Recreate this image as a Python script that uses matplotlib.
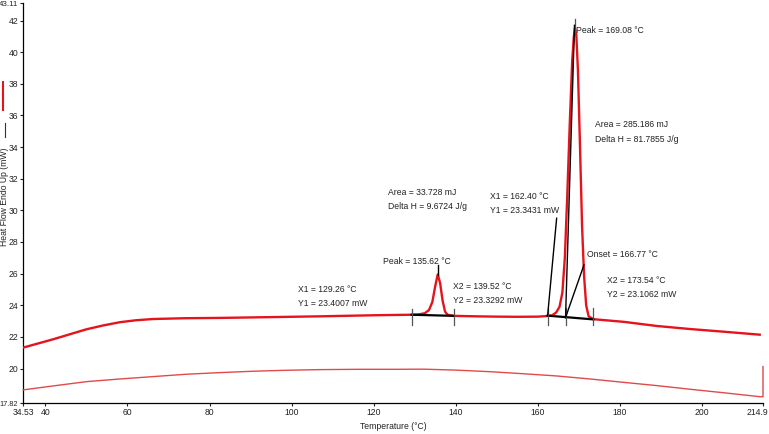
import matplotlib
matplotlib.use("Agg")
import matplotlib.pyplot as plt
import matplotlib.transforms as mtransforms
from matplotlib.lines import Line2D
from matplotlib import font_manager

# the instrument software uses a tall narrow font; take a narrow one if present
installed = {f.name for f in font_manager.fontManager.ttflist}
if 'Liberation Sans Narrow' in installed:
    plt.rcParams['font.family'] = ['Liberation Sans Narrow', 'DejaVu Sans']
    fs = 7.4
else:
    plt.rcParams['font.family'] = ['Liberation Sans', 'DejaVu Sans']
    fs = 6.2

# DSC scan (temperature in degC, heat flow in mW)
main_temp = [34.53, 41.9, 46, 50, 54, 58.2, 62, 66.2, 74, 82.5, 95, 106.9, 120.7, 126,
             129.26, 131, 132.5, 133.5, 134.3, 135.0, 135.62, 136.2, 136.8, 137.4, 138,
             139.52, 145, 150, 155, 160, 162.4, 163.5, 164.5, 165.3, 166.0, 166.6,
             167.2, 167.8, 168.4, 168.8, 169.08, 169.4, 169.8, 170.3, 170.8, 171.3,
             171.8, 172.4, 173.54, 181, 189, 197, 205.2, 214.1]
main_heat = [21.32, 21.85, 22.17, 22.48, 22.72, 22.93, 23.05, 23.13, 23.18, 23.2, 23.25, 23.3, 23.37, 23.39,
             23.40, 23.42, 23.5, 23.7, 24.2, 25.2, 25.95, 25.4, 24.3, 23.6, 23.4,
             23.33, 23.3, 23.28, 23.27, 23.28, 23.32, 23.36, 23.55, 23.9, 24.8, 27.0,
             31.0, 35.5, 39.5, 41.0, 41.5, 41.1, 38.8, 34.0, 29.0, 25.8,
             24.0, 23.3, 23.12, 22.95, 22.69, 22.5, 22.33, 22.14]

lower_temp = [34.6, 41.9, 50.0, 58.2, 66.3, 74.4, 82.5, 90.7, 98.8, 106.9, 116, 125.6,
              132.1, 140, 148.3, 156.5, 164.6, 172.7, 180.8, 189, 197.1, 205.6, 214.1,
              214.9, 214.9]
lower_heat = [18.65, 18.9, 19.17, 19.34, 19.49, 19.64, 19.74, 19.83, 19.89, 19.93, 19.95, 19.95,
              19.96, 19.9, 19.8, 19.67, 19.53, 19.34, 19.13, 18.92, 18.69, 18.46, 18.22,
              18.22, 20.12]

# analysis results printed by the instrument
peak1 = dict(x1=129.26, y1=23.4007, x2=139.52, y2=23.3292, peak=135.62, area=33.728, dh=9.6724)
peak2 = dict(x1=162.40, y1=23.3431, x2=173.54, y2=23.1062, peak=169.08, area=285.186, dh=81.7855,
             onset=166.77)

x_ticks = [34.53, 40, 60, 80, 100, 120, 140, 160, 180, 200, 214.9]
x_tick_labels = ["34.53", "40", "60", "80", "100", "120", "140", "160", "180", "200", "214.9"]
y_ticks = [17.82, 20, 22, 24, 26, 28, 30, 32, 34, 36, 38, 40, 42, 43.11]
y_tick_labels = ["17.82", "20", "22", "24", "26", "28", "30", "32", "34", "36", "38", "40", "42", "43.11"]

fig = plt.figure(figsize=(7.69, 4.34), dpi=100)
ax = fig.add_axes([23 / 769, 31 / 434, 740 / 769, 400 / 434])

red = '#e5141c'
ax.plot(main_temp, main_heat, color=red, lw=1.7, zorder=3)
ax.plot(lower_temp, lower_heat, color='#e04a4a', lw=1.0, clip_on=False, zorder=3)

k = dict(color='black', lw=1.0, zorder=4)
tk = dict(color='#555555', lw=0.9, zorder=4)
ax.plot([peak1['x1'], peak1['x2']], [peak1['y1'], peak1['y2']], color='black', lw=1.6, zorder=4)
for xv in (peak1['x1'], peak1['x2']):
    ax.plot([xv, xv], [22.75, 23.75], **tk)
ax.plot([peak1['peak'], peak1['peak']], [25.9, 26.55], **k)

ax.plot([peak2['x1'], peak2['x2']], [peak2['y1'], peak2['y2']], color='black', lw=1.6, zorder=4)
for xv in (peak2['x1'], peak2['onset'], peak2['x2']):
    ax.plot([xv, xv], [22.75, 23.8], **tk)
ax.plot([peak2['peak'], peak2['peak']], [41.3, 42.1], **tk)
ax.plot([peak2['x1'], 164.6], [peak2['y1'], 29.5], **k)
ax.plot([peak2['onset'], 168.95], [23.22, 41.7], **k)
ax.plot([peak2['onset'], 171.26], [23.22, 26.55], **k)

def label(x, y, s):
    ax.text(x, y, s, fontsize=fs, ha='left', va='center', zorder=5, color='#222222')

label(169.4, 41.4, "Peak = %.2f \u00b0C" % peak2['peak'])
label(173.9, 35.4, "Area = %.3f mJ" % peak2['area'])
label(173.9, 34.5, "Delta H = %.4f J/g" % peak2['dh'])
label(148.35, 30.85, "X1 = %.2f \u00b0C" % peak2['x1'])
label(148.35, 29.96, "Y1 = %.4f mW" % peak2['y1'])
label(172.0, 27.18, "Onset = %.2f \u00b0C" % peak2['onset'])
label(176.9, 25.54, "X2 = %.2f \u00b0C" % peak2['x2'])
label(176.9, 24.65, "Y2 = %.4f mW" % peak2['y2'])

label(122.27, 26.74, "Peak = %.2f \u00b0C" % peak1['peak'])
label(123.5, 31.10, "Area = %.3f mJ" % peak1['area'])
label(123.5, 30.22, "Delta H = %.4f J/g" % peak1['dh'])
label(101.55, 24.97, "X1 = %.2f \u00b0C" % peak1['x1'])
label(101.55, 24.08, "Y1 = %.4f mW" % peak1['y1'])
label(139.33, 25.16, "X2 = %.2f \u00b0C" % peak1['x2'])
label(139.33, 24.30, "Y2 = %.4f mW" % peak1['y2'])

ax.set_xlim(34.53, 214.9)
ax.set_ylim(17.82, 43.11)
ax.set_xticks(x_ticks)
ax.set_xticklabels(x_tick_labels)
ax.set_yticks(y_ticks)
ax.set_yticklabels(y_tick_labels)
ax.tick_params(labelsize=fs, length=2.5, width=0.8, pad=1, colors='#222222')
for s in ('top', 'right'):
    ax.spines[s].set_visible(False)
for s in ('left', 'bottom'):
    ax.spines[s].set_linewidth(0.9)

# nudge the end labels so they stay inside the picture
xl = ax.get_xticklabels()
xl[-1].set_transform(xl[-1].get_transform() + mtransforms.ScaledTranslation(-4 / 72, 0, fig.dpi_scale_trans))
yl = ax.get_yticklabels()
yl[0].set_fontsize(fs - 0.9)
yl[-1].set_fontsize(fs - 0.5)

ax.set_xlabel("Temperature (\u00b0C)", fontsize=fs, labelpad=4, color='#222222')

# y label with the little legend strokes drawn next to it
fig.text(4.5 / 769, 1 - 197 / 434, "Heat Flow Endo Up (mW)", rotation=90, fontsize=fs,
         ha='center', va='center', color='#222222')
fig.add_artist(Line2D([5 / 769, 5 / 769], [1 - 137 / 434, 1 - 123 / 434], color='#333333', lw=0.8))
fig.add_artist(Line2D([3 / 769, 3 / 769], [1 - 110 / 434, 1 - 82 / 434], color=red, lw=1.5))

fig.savefig("out.png", dpi=100)
